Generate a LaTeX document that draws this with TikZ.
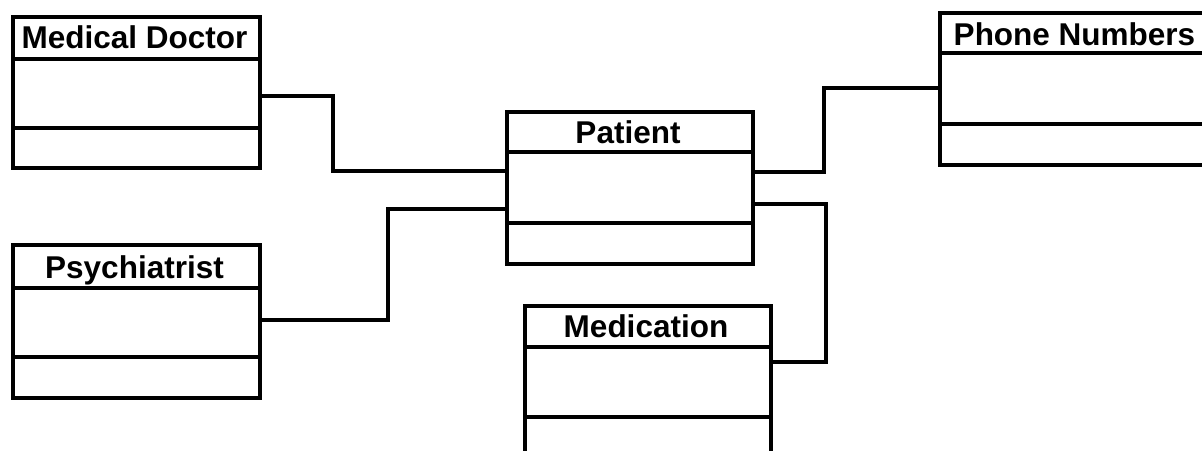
\documentclass[tikz,border=0pt]{standalone}
\usepackage{fontspec}
\setmainfont{Liberation Sans}
\begin{document}
\begin{tikzpicture}[x=1pt,y=-1pt,
  line width=3.6pt, line join=miter,
  classbox/.style={draw, rectangle, inner sep=0pt, anchor=north west},
  classtitle/.style={anchor=base, inner sep=0pt,
    font=\bfseries\fontsize{31.5}{36}\selectfont},
  link/.style={draw}]
\useasboundingbox (0,0) rectangle (1202,450);
\clip (0,0) rectangle (1202,450);
\fill[white] (0,0) rectangle (1202,450);

% class boxes: outer frame, title compartment, attribute compartment
\node[classbox, minimum width=247pt, minimum height=151pt] (md) at (11,15) {};
\draw (md.west |- 0,59) -- (md.east |- 0,59);
\draw (md.west |- 0,128) -- (md.east |- 0,128);
\node[classtitle] (mdt) at (134.5,48) {Medical Doctor};

\node[classbox, minimum width=247pt, minimum height=153pt] (psy) at (11,243) {};
\draw (psy.west |- 0,288) -- (psy.east |- 0,288);
\draw (psy.west |- 0,357) -- (psy.east |- 0,357);
\node[classtitle] (psyt) at (134.5,278) {Psychiatrist};

\node[classbox, minimum width=246pt, minimum height=152pt] (pat) at (505,110) {};
\draw (pat.west |- 0,152) -- (pat.east |- 0,152);
\draw (pat.west |- 0,223) -- (pat.east |- 0,223);
\node[classtitle] (patt) at (628,143) {Patient};

\node[classbox, minimum width=246pt, minimum height=180pt] (med) at (523,304) {};
\draw (med.west |- 0,347) -- (med.east |- 0,347);
\draw (med.west |- 0,417) -- (med.east |- 0,417);
\node[classtitle] (medt) at (646,337) {Medication};

\node[classbox, minimum width=273pt, minimum height=152pt] (ph) at (938,11) {};
\draw (ph.west |- 0,53) -- (ph.east |- 0,53);
\draw (ph.west |- 0,124) -- (ph.east |- 0,124);
\node[classtitle] (pht) at (1074.5,45) {Phone Numbers};

% association connection points
\coordinate (mdR)  at (md.east  |- 0,96);
\coordinate (psyR) at (psy.east |- 0,320);
\coordinate (patL1) at (pat.west |- 0,171);
\coordinate (patL2) at (pat.west |- 0,209);
\coordinate (patR1) at (pat.east |- 0,172);
\coordinate (patR2) at (pat.east |- 0,204);
\coordinate (phL)  at (ph.west  |- 0,88);
\coordinate (medR) at (med.east |- 0,362);

% associations (orthogonal routing)
\draw[link] (mdR) -- (333,96) -- (333,171) -- (patL1);
\draw[link] (psyR) -- (388,320) -- (388,209) -- (patL2);
\draw[link] (patR1) -- (824,172) -- (824,88) -- (phL);
\draw[link] (patR2) -- (826,204) -- (826,362) -- (medR);
\end{tikzpicture}
\end{document}
